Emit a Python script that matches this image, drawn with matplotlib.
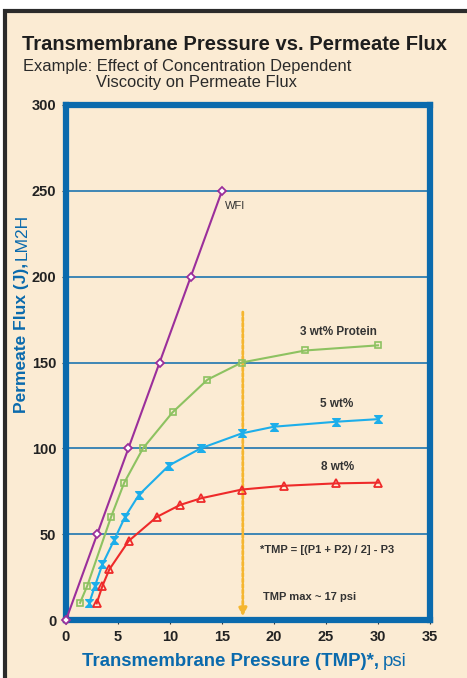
import matplotlib
matplotlib.use("Agg")
import matplotlib.pyplot as plt
from matplotlib.path import Path
from matplotlib.patches import Rectangle
import numpy as np

wfi_x = [0, 3, 6, 9, 12, 15]
wfi_y = [0, 50, 100, 150, 200, 250]
p3_x = [1.35, 2.05, 4.33, 5.6, 7.4, 10.25, 13.6, 16.9, 23.0, 30.0]
p3_y = [10, 20, 60, 80, 100, 121, 140, 150, 157, 160]
p5_x = [2.24, 2.79, 3.5, 4.65, 5.67, 7.0, 9.9, 12.95, 16.9, 20.0, 26.0, 30.0]
p5_y = [10, 20, 32.4, 46.8, 60, 72.8, 90, 100, 108.7, 112.6, 115.5, 117]
p8_x = [2.95, 3.5, 4.17, 6.02, 8.72, 10.96, 12.98, 16.9, 21.0, 26.0, 30.0]
p8_y = [9.7, 19.8, 29.5, 46, 60, 67, 70.9, 76, 78.2, 79.6, 80]
xticks = [0, 5, 10, 15, 20, 25, 30, 35]
yticks = [0, 50, 100, 150, 200, 250, 300]
tmp_max = 17

plt.rcParams["font.family"] = "Liberation Sans"
bg = "#FBEBD3"
blue = "#0A6AAD"
fig = plt.figure(figsize=(4.67, 6.78), dpi=100)
fig.patch.set_facecolor("white")
fig.patches.append(Rectangle((4.5/467, -0.01), 1.0, 1 - 10.5/678 + 0.01,
                             transform=fig.transFigure, facecolor=bg,
                             edgecolor="#2B2B2B", linewidth=3, zorder=-5))

ax = fig.add_axes([66/467, 1-620/678, 364/467, 515/678])
ax.set_facecolor(bg)
ax.set_xlim(0, 35)
ax.set_ylim(0, 300)
ax.set_xticks(xticks)
ax.set_yticks(yticks)
for s in ax.spines.values():
    s.set_color(blue)
    s.set_linewidth(4.5)
ax.tick_params(axis="both", length=3, width=0.8, color="#333333", direction="out",
               labelsize=10.5, labelcolor="#222222", pad=4)
for lab in ax.get_xticklabels() + ax.get_yticklabels():
    lab.set_fontweight("bold")
for y in yticks[1:-1]:
    ax.axhline(y, color=blue, lw=1.1, zorder=1)

bowtie = Path([(-1, 1), (1, 1), (-1, -1), (1, -1), (-1, 1)],
              [Path.MOVETO, Path.LINETO, Path.LINETO, Path.LINETO, Path.CLOSEPOLY])

ax.plot(wfi_x, wfi_y, color="#9B2F9B", lw=1.5, marker="D", ms=4.5,
        mfc="white", mec="#9B2F9B", mew=1.3, zorder=4, clip_on=False)
ax.plot(p3_x, p3_y, color="#8DC261", lw=1.5, marker="s", ms=4.5,
        mfc="none", mec="#8DC261", mew=1.2, zorder=4)
ax.plot(p5_x, p5_y, color="#1DAEEA", lw=1.5, marker=bowtie, ms=5.5,
        mfc="#1DAEEA", mec="#1DAEEA", mew=1.0, zorder=4)
ax.plot(p8_x, p8_y, color="#EE2A2A", lw=1.5, marker="^", ms=5.5,
        mfc="none", mec="#EE2A2A", mew=1.3, zorder=4)

ax.annotate("", xy=(tmp_max, 0.5), xytext=(tmp_max, 181),
            arrowprops=dict(arrowstyle="-|>", color="#F5B630", lw=2,
                            linestyle=(0, (1.2, 0.8)), mutation_scale=12),
            zorder=3)

ax.text(16.3, 241, "WFI", fontsize=8, color="#333333", ha="center", va="center")
ax.text(26.2, 167.5, "3 wt% Protein", fontsize=8.5, fontweight="bold", color="#333333",
        ha="center", va="center")
ax.text(26.0, 125.8, "5 wt%", fontsize=8.5, fontweight="bold", color="#333333",
        ha="center", va="center")
ax.text(26.1, 89, "8 wt%", fontsize=8.5, fontweight="bold", color="#333333",
        ha="center", va="center")
ax.text(18.7, 40.5, "*TMP = [(P1 + P2) / 2] - P3", fontsize=8, fontweight="bold",
        color="#333333", ha="left", va="center")
ax.text(18.9, 13.4, "TMP max ~ 17 psi", fontsize=8, fontweight="bold",
        color="#333333", ha="left", va="center")

fig.text(22/467, 1-44/678, "Transmembrane Pressure vs. Permeate Flux", fontsize=14.5,
         fontweight="heavy", color="#1E1E1E", ha="left", va="center")
fig.text(23/467, 1-67/678, "Example: Effect of Concentration Dependent", fontsize=11.9,
         color="#2A2A2A", ha="left", va="center")
fig.text(96/467, 1-83/678, "Viscocity on Permeate Flux", fontsize=11.9,
         color="#2A2A2A", ha="left", va="center")

# axis labels built from a bold part and a normal part
fig.canvas.draw()
r = fig.canvas.get_renderer()
t1 = fig.text(82/467, 1-661/678, "Transmembrane Pressure (TMP)*,", fontsize=13.4,
              fontweight="bold", color=blue, ha="left", va="center")
w = t1.get_window_extent(r).width
fig.text(82/467 + (w + 4)/467, 1-661/678, "psi", fontsize=13.4, color=blue,
         ha="left", va="center")
t2 = fig.text(22/467, 1-413/678, "Permeate Flux (J),", fontsize=12.5, fontweight="bold",
              color=blue, ha="center", va="bottom", rotation=90)
h = t2.get_window_extent(r).height
fig.text(22/467, 1-413/678 + (h + 3)/678, "LM2H", fontsize=12.5, color=blue,
         ha="center", va="bottom", rotation=90)

fig.savefig("out.png", dpi=100, facecolor=fig.get_facecolor())
